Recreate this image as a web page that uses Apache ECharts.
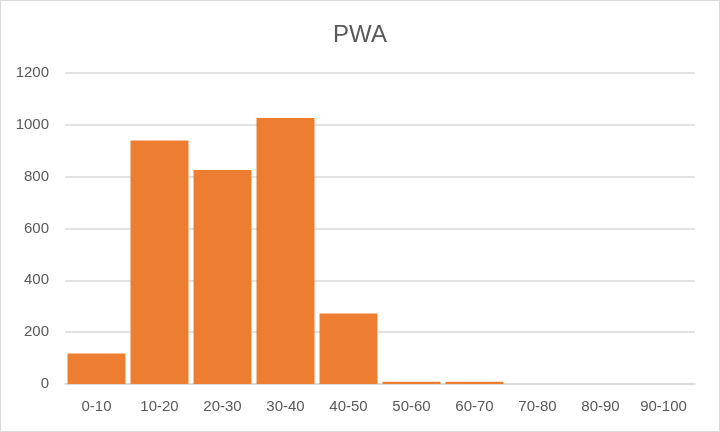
<!DOCTYPE html>
<html>
<head>
<meta charset="utf-8">
<script src="https://cdn.jsdelivr.net/npm/echarts@6/dist/echarts.min.js"></script>
<style>
  html, body { margin: 0; padding: 0; background: #fff; }
  #chart { width: 718px; height: 430px; border: 1px solid #d9d9d9; }
</style>
</head>
<body>
<div id="chart"></div>
<script>
var categories = ['0-10', '10-20', '20-30', '30-40', '40-50', '50-60', '60-70', '70-80', '80-90', '90-100'];
var counts = [118, 940, 826, 1026, 272, 9, 9, 0, 0, 0];
var yTicks = [0, 200, 400, 600, 800, 1000, 1200];

var chart = echarts.init(document.getElementById('chart'));

var option = {
	animation: false,
	title: {
		text: 'PWA',
		left: 'center',
		top: 17,
		textStyle: {
			fontFamily: 'Liberation Sans',
			fontSize: 24,
			fontWeight: 'normal',
			color: '#595959'
		}
	},
	grid: {
		left: 64,
		right: 24,
		top: 72,
		bottom: 47
	},
	xAxis: {
		type: 'category',
		data: categories,
		axisTick: { show: false },
		axisLine: { lineStyle: { color: '#d9d9d9', width: 1.5 } },
		axisLabel: {
			margin: 15,
			fontFamily: 'Liberation Sans',
			fontSize: 15,
			color: '#595959'
		}
	},
	yAxis: {
		type: 'value',
		min: yTicks[0],
		max: yTicks[yTicks.length - 1],
		interval: 200,
		axisLine: { show: false },
		axisTick: { show: false },
		splitLine: { lineStyle: { color: '#d9d9d9', width: 1.5 } },
		axisLabel: {
			margin: 16,
			fontFamily: 'Liberation Sans',
			fontSize: 15,
			color: '#595959',
			formatter: function (v) { return String(v); }
		}
	},
	series: [{
		type: 'bar',
		data: counts,
		barCategoryGap: '8%',
		itemStyle: { color: '#ED7D31' }
	}]
};

chart.setOption(option);
</script>
</body>
</html>
